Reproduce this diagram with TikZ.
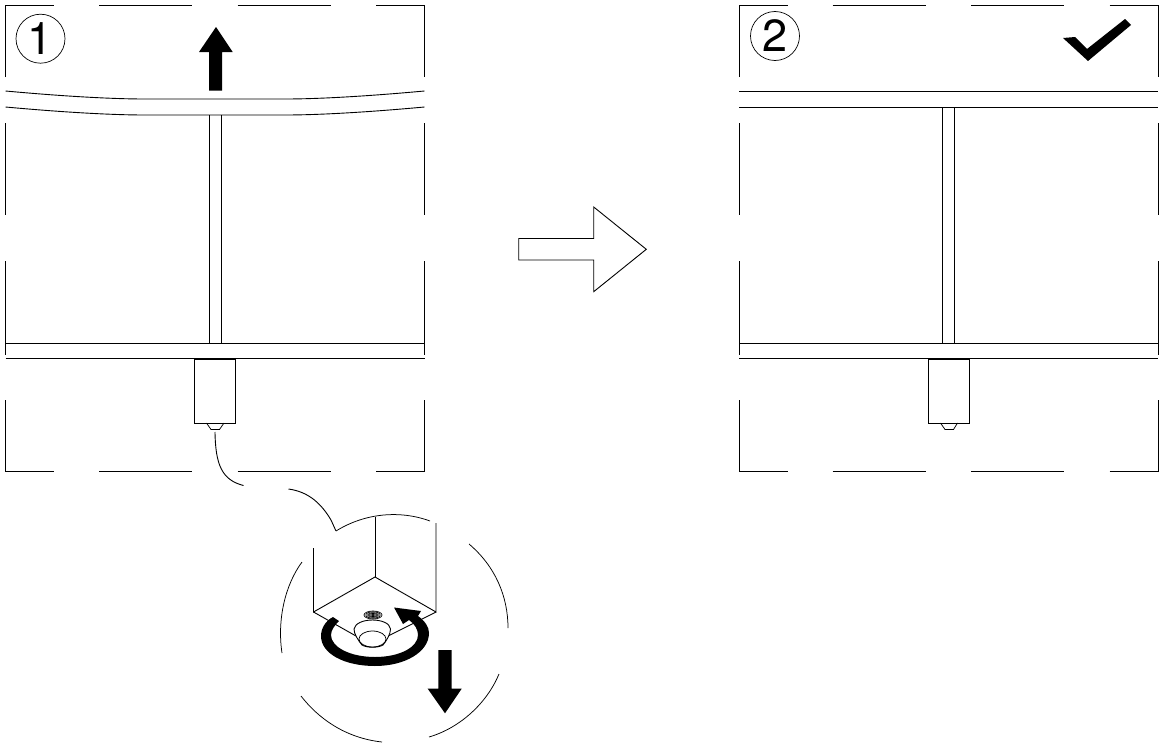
\documentclass[tikz,border=0pt]{standalone}
\usepackage{fontspec}
\setmainfont{TeX Gyre Heros}
\tikzset{
 ln/.style={draw=black,line width=0.9pt},
 thin ln/.style={draw=black,line width=0.75pt},
 fillk/.style={fill=black,draw=none},
 num/.style={circle,draw=black,line width=0.7pt,minimum size=49pt,inner sep=0pt,font=\fontsize{45}{45}\selectfont},
}
\newcommand{\panel}[1]{%
 \begin{scope}[shift={(#1,0)}]
 \draw[ln] (0,77)--(0,5.5)--(48.5,5.5);
 \draw[ln] (93.5,5.5)--(186.5,5.5) (232,5.5)--(325,5.5);
 \draw[ln] (370.5,5.5)--(419,5.5)--(419,77);
 \draw[ln] (0,123)--(0,215) (419,123)--(419,215);
 \draw[ln] (0,261)--(0,354.5) (419,261)--(419,354.5);
 \draw[ln] (0,400)--(0,471)--(48.5,471);
 \draw[ln] (93.5,471)--(186.5,471) (232,471)--(325,471);
 \draw[ln] (370.5,471)--(419,471)--(419,400);
 \draw[ln] (0,343)--(419,343) (0,358.5)--(419,358.5);
 \end{scope}}
\begin{document}
\begin{tikzpicture}[x=1pt,y=-1pt]
\useasboundingbox (0,0) rectangle (1160,744);
\panel{5.5}
\panel{739}
% panel 1 rails
\draw[ln] (5.5,91) .. controls (60,96) and (110,99) .. (145,99) -- (285,99) .. controls (320,99) and (370,96) .. (424.5,91);
\draw[ln] (5.5,107) .. controls (60,112) and (110,115) .. (145,115) -- (285,115) .. controls (320,115) and (370,112) .. (424.5,107);
\draw[ln] (209,115)--(209,343) (221,115)--(221,343);
\draw[ln] (194.5,359) rectangle (235.5,423);
\draw[thin ln] (206.5,423)--(211,429.5)--(219.5,429.5)--(224,423);
% panel 2 rails
\draw[ln] (739,91)--(1158,91) (739,107)--(1158,107);
\draw[ln] (942.5,107)--(942.5,343) (954.5,107)--(954.5,343);
\draw[ln] (928.5,359) rectangle (969,423);
\draw[thin ln] (940.5,423)--(945,429.5)--(953.5,429.5)--(957.5,423);
% numbers
\node[num] (n1) at (40.5,38.7) {1};
\node[num] (n2) at (775,36) {2};
% up arrow
\path[fillk] (216,27)--(232.7,52)--(222,52)--(222,90.5)--(209,90.5)--(209,52)--(199,52)--cycle;
% check
\path[fillk] (1063,38)--(1075,37)--(1087,49)--(1125,19)--(1131,25)--(1088,61)--cycle;
% hollow arrow
\draw[ln] (518.7,238.5)--(593.7,238.5)--(593.7,207)--(646.3,249.3)--(593.7,291.7)--(593.7,260)--(518.7,260)--cycle;
% leader
\draw[ln] (215,432) .. controls (215.5,465) and (222,480) .. (243.5,485.5);
\draw[ln] (288.5,489) .. controls (310,492) and (322,505) .. (331,520) -- (336,531);
% detail circle
\draw[thin ln] (336,531) .. controls (365,513) and (400,510) .. (430,521);
\draw[thin ln] (469,544) .. controls (495,566) and (508,596) .. (508,628);
\draw[thin ln] (499,674) .. controls (487,703) and (460,728) .. (429,737);
\draw[thin ln] (382,742) .. controls (345,738) and (318,718) .. (301,696);
\draw[thin ln] (302,562) .. controls (285,585) and (277,620) .. (282,653);
% column
\draw[ln] (313.5,548)--(313.5,612)--(375,577)--(436,612)--(436,523);
\draw[ln] (375,517)--(375,577);
\draw[ln] (313.5,612)--(356,636) (436,612)--(388,636);
% screw
\foreach \r in {1,2,3,4,5}{\draw[line width=.7pt] (373,615) ellipse (\r*1.8 and \r*.8);}
\draw[ln,fill=white] (354,629) .. controls (355,623) and (364,620) .. (372.5,620) .. controls (381,620) and (390,623) .. (390.5,629) .. controls (390.5,634) and (387,640) .. (383,645) .. controls (378,648) and (367,648) .. (362,645) .. controls (358,640) and (354,634) .. (354,629) -- cycle;
\draw[thin ln] (372.5,639) ellipse (13.5 and 8);
% turning arrow
\path[fillk] (333,617) .. controls (325,621) and (321,629) .. (321,636) .. controls (321,654) and (345,666) .. (375,666) .. controls (405,666) and (429,652) .. (429,633) .. controls (429,627) and (425,621) .. (418,616) -- (421,611) -- (394,607.5) -- (403,624) -- (409,620) .. controls (415,624) and (418,630) .. (418,635) .. controls (418,647) and (400,657) .. (375,657) .. controls (350,657) and (331,647) .. (331,635) .. controls (331,630) and (335,625) .. (339,621) -- cycle;
% down arrow
\path[fillk] (438.3,650)--(451.7,650)--(451.7,688.7)--(461.7,688.7)--(445,713.3)--(427.7,688.7)--(438.3,688.7)--cycle;
\end{tikzpicture}
\end{document}
